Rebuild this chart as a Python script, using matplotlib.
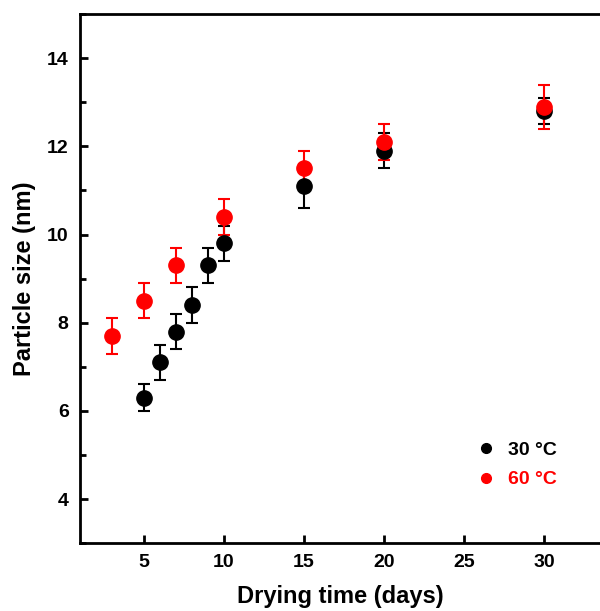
import matplotlib
matplotlib.use('Agg')
import matplotlib.pyplot as plt
from matplotlib.lines import Line2D
from matplotlib.ticker import MultipleLocator

# 数据
days_30 = [5, 6, 7, 8, 9, 10, 15, 20, 30]
size_30 = [6.3, 7.1, 7.8, 8.4, 9.3, 9.8, 11.1, 11.9, 12.8]
err_30 = [0.3, 0.4, 0.4, 0.4, 0.4, 0.4, 0.5, 0.4, 0.3]

days_60 = [3, 5, 7, 10, 15, 20, 30]
size_60 = [7.7, 8.5, 9.3, 10.4, 11.5, 12.1, 12.9]
err_60 = [0.4, 0.4, 0.4, 0.4, 0.4, 0.4, 0.5]

labels = ['30 °C', '60 °C']
colors = ['black', 'red']

FONTSIZE = 14
plt.rcParams['font.family'] = ['Liberation Sans', 'DejaVu Sans']
plt.rcParams['font.weight'] = 'bold'

fig = plt.figure(figsize=(6.0, 6.11), dpi=100)
ax = fig.add_axes([0.133, 0.111, 0.867, 0.866])

for days, size, err, c in [(days_30, size_30, err_30, colors[0]),
                           (days_60, size_60, err_60, colors[1])]:
    ax.errorbar(days, size, yerr=err, fmt='o', color=c, ecolor=c,
                markersize=11, elinewidth=1.5, capsize=4, capthick=1.5,
                zorder=3)

ax.set_xlim(1, 33.5)
ax.set_ylim(3, 15)
ax.set_xticks([5, 10, 15, 20, 25, 30])
ax.set_yticks([4, 6, 8, 10, 12, 14])
ax.yaxis.set_minor_locator(MultipleLocator(1))

for side in ['left', 'bottom', 'top']:
    ax.spines[side].set_linewidth(2)
ax.spines['right'].set_visible(False)

ax.tick_params(axis='both', which='major', direction='in', length=6, width=2,
               labelsize=FONTSIZE, pad=8, top=False, right=False)
ax.tick_params(axis='y', which='minor', direction='in', length=4, width=2,
               right=False)

ax.set_xlabel('Drying time (days)', fontsize=17, fontweight='bold', labelpad=10)
ax.set_ylabel('Particle size (nm)', fontsize=17, fontweight='bold', labelpad=8)

handles = [Line2D([], [], marker='o', linestyle='none', color=c, markersize=7)
           for c in colors]
ax.legend(handles, labels, loc='center left', bbox_to_anchor=(0.763, 0.148),
          frameon=False, handlelength=1.0,
          handletextpad=0.6, labelspacing=0.6, borderpad=0, borderaxespad=0,
          labelcolor='linecolor', prop={'weight': 'bold', 'size': FONTSIZE})

fig.savefig('out.png', dpi=100)
